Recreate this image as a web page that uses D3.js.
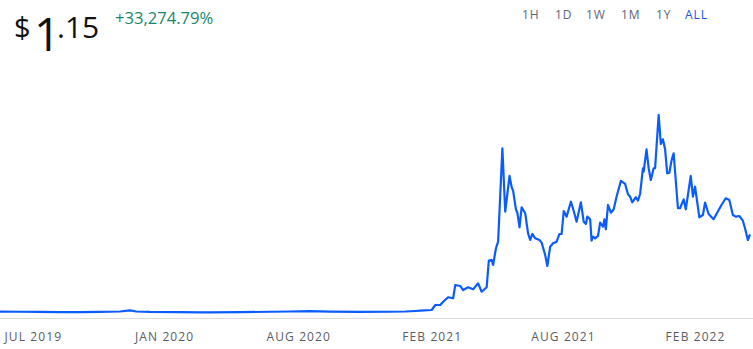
<!DOCTYPE html>
<html>
<head>
<meta charset="utf-8">
<script src="https://cdn.jsdelivr.net/npm/d3@7"></script>
<style>
  html, body { margin: 0; padding: 0; background: #fff; }
  svg { display: block; font-family: "Open Sans", "Noto Sans", sans-serif; }
</style>
</head>
<body>
<svg id="chart" width="753" height="349"></svg>
<script>
// Price history (USD), sampled points
const dates = [
  "2019-06-12","2019-07-10","2019-08-07","2019-09-04","2019-10-02","2019-10-30","2019-11-27","2019-12-11","2019-12-20",
  "2020-01-08","2020-02-19","2020-03-18","2020-04-01","2020-05-13","2020-06-24","2020-07-22","2020-08-19","2020-09-16",
  "2020-10-28","2020-12-09","2020-12-31","2021-01-14","2021-01-21","2021-02-06","2021-02-11","2021-02-18","2021-02-22",
  "2021-03-01","2021-03-08","2021-03-11","2021-03-18","2021-03-22","2021-03-29","2021-04-05","2021-04-12","2021-04-17",
  "2021-04-24","2021-04-27","2021-05-01","2021-05-03","2021-05-07","2021-05-10","2021-05-16","2021-05-20","2021-05-26",
  "2021-05-29","2021-05-31","2021-06-04","2021-06-06","2021-06-09","2021-06-12","2021-06-17","2021-06-21","2021-06-24",
  "2021-06-27","2021-07-01","2021-07-07","2021-07-10","2021-07-15","2021-07-18","2021-07-22","2021-07-26","2021-07-31",
  "2021-08-04","2021-08-07","2021-08-10","2021-08-14","2021-08-20","2021-08-24","2021-08-28","2021-09-03","2021-09-07",
  "2021-09-10","2021-09-12","2021-09-16","2021-09-18","2021-09-20","2021-09-23","2021-09-27","2021-09-30","2021-10-04",
  "2021-10-06","2021-10-08","2021-10-11","2021-10-15","2021-10-19","2021-10-23","2021-10-29","2021-11-04","2021-11-08",
  "2021-11-11","2021-11-14","2021-11-19","2021-11-22","2021-11-25","2021-11-29","2021-11-30","2021-12-04","2021-12-07",
  "2021-12-10","2021-12-14","2021-12-16","2021-12-21","2021-12-24","2021-12-27","2021-12-30","2022-01-02","2022-01-05",
  "2022-01-08","2022-01-11","2022-01-17","2022-01-20","2022-01-25","2022-01-28","2022-02-04","2022-02-07","2022-02-10",
  "2022-02-16","2022-02-21","2022-02-24","2022-03-01","2022-03-08","2022-03-12","2022-03-19","2022-03-25","2022-03-30",
  "2022-04-04","2022-04-08","2022-04-13","2022-04-18","2022-04-21","2022-04-25","2022-04-28"
];
const prices = [
  0.019,0.018,0.015,0.012,0.013,0.015,0.022,0.039,0.022,
  0.015,0.012,0.009,0.010,0.012,0.018,0.022,0.026,0.020,
  0.015,0.018,0.022,0.029,0.034,0.044,0.117,0.117,0.165,
  0.230,0.215,0.409,0.395,0.336,0.376,0.346,0.434,0.311,
  0.376,0.765,0.775,0.702,0.946,1.042,2.408,1.481,2.003,
  1.838,1.788,1.516,1.466,1.253,1.545,1.458,1.165,1.067,
  1.155,1.092,1.067,1.028,0.848,0.687,0.969,1.019,1.042,
  1.155,1.155,1.491,1.408,1.627,1.491,1.335,1.618,1.335,
  1.301,1.408,1.370,1.057,1.115,1.092,1.126,1.320,1.262,
  1.370,1.224,1.579,1.466,1.516,1.700,1.930,1.886,1.735,
  1.700,1.618,1.692,1.642,1.740,2.116,2.066,2.393,2.116,
  1.944,2.116,2.116,2.895,2.471,2.539,2.393,2.042,2.051,
  2.227,2.335,1.531,1.531,1.662,1.516,2.003,1.700,1.846,
  1.399,1.433,1.613,1.447,1.370,1.447,1.579,1.677,1.652,
  1.433,1.408,1.418,1.349,1.238,1.067,1.15
];

// Axis ticks
const tickDates = ["2019-07-28","2020-01-28","2020-08-03","2021-02-06","2021-08-09","2022-02-10"];
const tickLabels = ["JUL 2019","JAN 2020","AUG 2020","FEB 2021","AUG 2021","FEB 2022"];

// Header figures
const currentPrice = "1.15";
const changePct = "+33,274.79%";
const ranges = ["1H","1D","1W","1M","1Y","ALL"];
const activeRange = "ALL";

const parse = d3.utcParse("%Y-%m-%d");
const data = dates.map((d, i) => ({ date: parse(d), value: prices[i] }));

const svg = d3.select("#chart");
const plot = { left: 0, right: 750, top: 114.6, bottom: 313, axisY: 318 };

const x = d3.scaleUtc()
  .domain([parse("2019-06-12"), parse("2022-04-28")])
  .range([plot.left, plot.right]);

const y = d3.scaleLinear()
  .domain([0, 2.9])
  .range([plot.bottom, plot.top]);

// Axis baseline and month labels
const axis = d3.axisBottom(x)
  .tickValues(tickDates.map(parse))
  .tickFormat((d, i) => tickLabels[i])
  .tickSize(0)
  .tickPadding(14);

const gAxis = svg.append("g")
  .attr("transform", `translate(0,${plot.axisY})`)
  .call(axis);
gAxis.select(".domain").attr("stroke", "#dcdcdc").attr("d", "M0,0.5H753");
gAxis.selectAll("text")
  .attr("fill", "#5b5b66")
  .attr("font-size", 12)
  .attr("letter-spacing", "1.1px")
  .style("font-family", "'Open Sans', sans-serif");

// Price line
const line = d3.line()
  .x(d => x(d.date))
  .y(d => y(d.value))
  .curve(d3.curveLinear);

svg.append("path")
  .datum(data)
  .attr("fill", "none")
  .attr("stroke", "#0a5cff")
  .attr("stroke-width", 2.2)
  .attr("stroke-linejoin", "round")
  .attr("d", line);

// Header: price, with the whole-dollar digit set larger and dropped
const head = svg.append("g").attr("fill", "#111");
head.append("text").attr("x", 14).attr("y", 38).attr("font-size", 29).text("$");
head.append("text").attr("x", 34).attr("y", 51).attr("font-size", 46)
  .text(currentPrice.split(".")[0]);
head.append("text").attr("x", 57).attr("y", 38).attr("font-size", 30).text("." + currentPrice.split(".")[1]);

svg.append("text")
  .attr("x", 115).attr("y", 24)
  .attr("font-size", 16.6)
  .attr("fill", "#16876c")
  .text(changePct);

// Range selector
const rangeX = [522, 555, 586, 621, 656, 685];
svg.append("g").selectAll("text")
  .data(ranges)
  .join("text")
  .attr("x", (d, i) => rangeX[i])
  .attr("y", 18.5)
  .attr("font-size", 12)
  .attr("letter-spacing", "1px")
  .attr("fill", d => d === activeRange ? "#1a52f5" : "#5d6675")
  .text(d => d);
</script>
</body>
</html>
